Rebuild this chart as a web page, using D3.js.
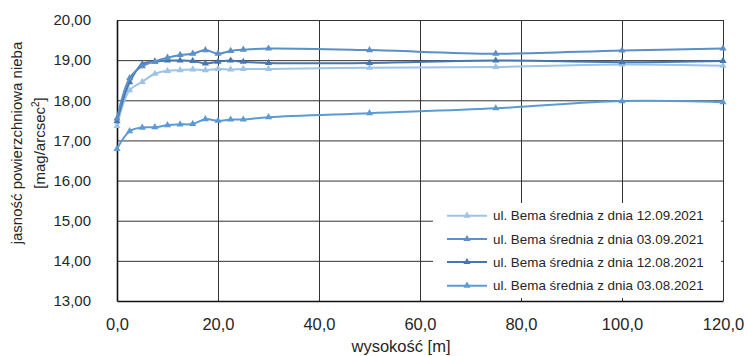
<!DOCTYPE html>
<html><head><meta charset="utf-8">
<script src="https://cdn.jsdelivr.net/npm/d3@7"></script>
<style>body{margin:0;background:#fff}svg{display:block}text{font-family:"Liberation Sans",Arial,sans-serif;fill:#262626}</style>
</head><body><div id="c"></div>
<script>
const heights = [0, 2.5, 5, 7.5, 10, 12.5, 15, 17.5, 20, 22.5, 25, 30, 50, 75, 100, 120];
const seriesNames = ["ul. Bema średnia z dnia 12.09.2021","ul. Bema średnia z dnia 03.09.2021","ul. Bema średnia z dnia 12.08.2021","ul. Bema średnia z dnia 03.08.2021"];
const s12_09 = [17.36, 18.25, 18.46, 18.66, 18.73, 18.75, 18.77, 18.75, 18.78, 18.77, 18.78, 18.78, 18.81, 18.83, 18.89, 18.86];
const s03_09 = [17.55, 18.55, 18.85, 18.97, 19.06, 19.13, 19.16, 19.25, 19.16, 19.23, 19.26, 19.29, 19.25, 19.16, 19.24, 19.29];
const s12_08 = [17.48, 18.45, 18.90, 18.96, 18.99, 18.99, 18.98, 18.92, 18.96, 18.99, 18.96, 18.93, 18.93, 18.99, 18.95, 18.98];
const s03_08 = [16.79, 17.23, 17.32, 17.33, 17.38, 17.40, 17.41, 17.53, 17.49, 17.52, 17.52, 17.58, 17.68, 17.80, 17.98, 17.95];
const xTicks = [0, 20, 40, 60, 80, 100, 120];
const yTicks = [13, 14, 15, 16, 17, 18, 19, 20];
const colors = ["#9dc3e6", "#5a8fc8", "#4677b0", "#5b9bd5"];
const seriesValues = [s12_09, s03_09, s12_08, s03_08];

const W = 748, H = 356;
const svg = d3.select("#c").append("svg").attr("width", W).attr("height", H);
const x = d3.scaleLinear().domain([0, 120]).range([117, 723]);
const y = d3.scaleLinear().domain([13, 20]).range([301, 20]);
const fmt = v => v.toFixed(2).replace(".", ",");
const fmtX = v => v.toFixed(1).replace(".", ",");

// gridlines
svg.append("g").selectAll("line").data(yTicks.filter(d => d > 13)).join("line")
  .attr("x1", x(0)).attr("x2", x(120)).attr("y1", d => y(d) + 0.5).attr("y2", d => y(d) + 0.5)
  .attr("stroke", "#333").attr("stroke-width", 1);
svg.append("g").selectAll("line").data(xTicks.filter(d => d > 0)).join("line")
  .attr("x1", d => Math.round(x(d)) + 0.5).attr("x2", d => Math.round(x(d)) + 0.5).attr("y1", y(20)).attr("y2", y(13))
  .attr("stroke", "#333").attr("stroke-width", 1);

// axes
const yAxis = svg.append("g").attr("transform", `translate(${x(0)},0)`)
  .call(d3.axisLeft(y).tickValues(yTicks).tickFormat(fmt).tickSize(0).tickPadding(26));
yAxis.select(".domain").attr("stroke", "#111").attr("stroke-width", 1.6);
yAxis.selectAll("text").style("font-size", "15px").attr("fill", "#262626");
const xAxis = svg.append("g").attr("transform", `translate(0,${y(13)})`)
  .call(d3.axisBottom(x).tickValues(xTicks).tickFormat(fmtX).tickSize(0).tickPadding(17));
xAxis.select(".domain").attr("stroke", "#111").attr("stroke-width", 1.6);
xAxis.selectAll("text").style("font-size", "16.5px").attr("fill", "#262626");

// axis titles
const yt = svg.append("text").attr("transform", "translate(22,143) rotate(-90)")
  .attr("text-anchor", "middle").style("font-size", "15px");
yt.append("tspan").attr("x", 0).attr("y", 0).text("jasność powierzchniowa nieba");
yt.append("tspan").attr("x", 0).attr("y", 23).text("[mag/arcsec");
yt.append("tspan").attr("dy", -6).style("font-size", "10px").text("2");
yt.append("tspan").attr("dy", 6).text("]");
svg.append("text").attr("x", 401).attr("y", 352).attr("text-anchor", "middle")
  .style("font-size", "16.5px").text("wysokość [m]");

// lines
const line = d3.line().x(d => x(d[0])).y(d => y(d[1])).curve(d3.curveCatmullRom.alpha(0.5));
const tri = d3.symbol().type(d3.symbolTriangle).size(22);
const order = [3, 0, 2, 1];
order.forEach(i => {
  const pts = heights.map((h, j) => [h, seriesValues[i][j]]);
  const g = svg.append("g");
  g.append("path").attr("d", line(pts)).attr("fill", "none").attr("stroke", colors[i]).attr("stroke-width", 2);
  g.selectAll("path.m").data(pts).join("path").attr("class", "m")
    .attr("d", tri).attr("transform", d => `translate(${x(d[0])},${y(d[1])})`).attr("fill", colors[i]);
});

// legend
const lg = svg.append("g");
lg.append("rect").attr("x", 433).attr("y", 203).attr("width", 288).attr("height", 95).attr("fill", "#fff");
seriesNames.forEach((n, i) => {
  const yy = [215.7, 239, 262, 285.7][i];
  lg.append("line").attr("x1", 447).attr("x2", 487).attr("y1", yy).attr("y2", yy).attr("stroke", colors[i]).attr("stroke-width", 2);
  lg.append("path").attr("d", tri).attr("transform", `translate(467,${yy})`).attr("fill", colors[i]);
  lg.append("text").attr("x", 493).attr("y", yy).attr("dy", "0.35em").style("font-size", "13.4px").text(n);
});
</script></body></html>
